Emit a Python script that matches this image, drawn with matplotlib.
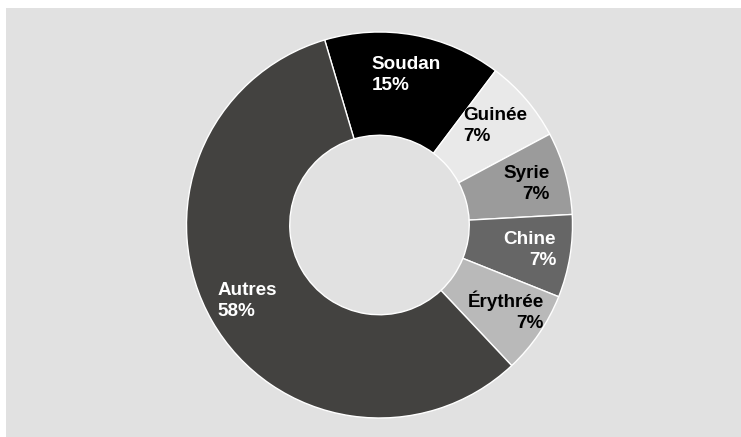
import numpy as np
import matplotlib
matplotlib.use("Agg")
import matplotlib.pyplot as plt
from matplotlib.patches import Rectangle

# données
pays = ["Soudan", "Guinée", "Syrie", "Chine", "Érythrée", "Autres"]
parts = [15, 7, 7, 7, 7, 58]
couleurs = ["#000000", "#e9e9e9", "#9b9b9b", "#666666", "#b9b9b9", "#434240"]
couleurs_texte = ["white", "black", "black", "white", "black", "white"]
alignements = ["left", "left", "right", "right", "right", "left"]

plt.rcParams["font.family"] = ["Liberation Sans", "DejaVu Sans"]

fig = plt.figure(figsize=(7.41, 4.37), dpi=100, facecolor="white")
# fond gris du cadre, sous les axes
fig.patches.append(Rectangle((6 / 741, 0), 1, (437 - 8) / 437,
                             transform=fig.transFigure, facecolor="#e1e1e1",
                             edgecolor="none", zorder=-10))

ax = fig.add_axes([0, 0, 1, 1])
ax.set_facecolor("none")
ax.set_zorder(1)

wedges, _ = ax.pie(parts, colors=couleurs, startangle=106.5, counterclock=False,
                   radius=1.0,
                   wedgeprops=dict(width=0.535, edgecolor="white", linewidth=1.0))

# étiquettes au milieu de chaque part
for w, nom, p, c, al in zip(wedges, pays, parts, couleurs_texte, alignements):
    ang = np.deg2rad((w.theta1 + w.theta2) / 2)
    r = 0.79
    ax.text(r * np.cos(ang), r * np.sin(ang), f"{nom}\n{p}%",
            ha="center", va="center", multialignment=al, color=c,
            fontsize=13.6, fontweight="bold", linespacing=1.32)

ax.set_xlim(-379.5 / 193, (741 - 379.5) / 193)
ax.set_ylim(-(437 - 225) / 193, 225 / 193)
ax.set_aspect("auto")
ax.axis("off")

fig.savefig("out.png", dpi=100, facecolor="white")
